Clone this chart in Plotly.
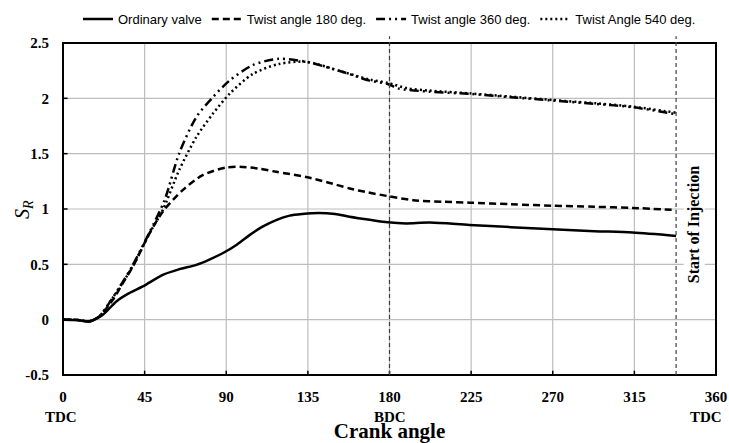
import plotly.graph_objects as go

# Crank angle (deg) and swirl ratio S_R for each case
x_ord = [0, 8, 14.7, 22, 29.4, 36, 44, 55, 64, 73.5, 81, 88, 96, 103, 110, 117.5, 125, 132, 141, 150, 158, 170, 179, 189, 202, 224, 247, 270, 293, 314, 338]
y_ord = [0, -0.003, -0.015, 0.045, 0.165, 0.235, 0.30, 0.405, 0.455, 0.495, 0.545, 0.60, 0.68, 0.766, 0.84, 0.90, 0.94, 0.955, 0.964, 0.955, 0.93, 0.90, 0.88, 0.87, 0.877, 0.856, 0.836, 0.817, 0.80, 0.787, 0.757]

x_180 = [0, 8, 14.7, 20, 27.5, 33, 38.5, 47.7, 55, 66, 77, 90, 99, 108, 117.5, 134, 146, 158, 168, 179, 193, 210, 224, 247, 270, 293, 314, 338]
y_180 = [0, -0.003, -0.015, 0.03, 0.18, 0.33, 0.48, 0.78, 0.976, 1.17, 1.306, 1.375, 1.38, 1.365, 1.336, 1.29, 1.24, 1.186, 1.15, 1.117, 1.08, 1.065, 1.057, 1.043, 1.03, 1.02, 1.01, 0.99]

x_360 = [0, 8, 14.7, 20, 27.5, 38, 47.7, 56, 64, 73.5, 82.6, 91.8, 104.6, 119, 134, 154, 169, 179, 184.6, 202, 224, 247, 270, 293.7, 314, 338]
y_360 = [0, -0.003, -0.015, 0.03, 0.20, 0.48, 0.79, 1.08, 1.50, 1.83, 2.01, 2.16, 2.30, 2.357, 2.33, 2.24, 2.16, 2.13, 2.09, 2.06, 2.04, 2.01, 1.98, 1.95, 1.92, 1.856]

x_540 = [0, 8, 14.7, 20, 27.5, 38, 47.7, 55, 64, 73.5, 82.6, 91.8, 104.6, 119, 134, 154, 169, 179, 190, 202, 224, 247, 270, 293.7, 314, 338]
y_540 = [0, -0.003, -0.015, 0.03, 0.20, 0.47, 0.78, 0.99, 1.35, 1.65, 1.86, 2.04, 2.22, 2.31, 2.33, 2.24, 2.17, 2.14, 2.09, 2.07, 2.045, 2.015, 1.985, 1.955, 1.925, 1.87]

series_names = ["Ordinary valve", "Twist angle 180 deg.", "Twist angle 360 deg.", "Twist Angle 540 deg."]
x_range = [0, 360]
y_range = [-0.5, 2.5]
x_ticks = [0, 45, 90, 135, 180, 225, 270, 315, 360]
y_ticks = [-0.5, 0, 0.5, 1, 1.5, 2, 2.5]
marker_lines = [180, 338]          # BDC and start of injection
stroke_labels = [(0, "TDC", -2), (180, "BDC", 0), (360, "TDC", -10)]
injection_label = "Start of Injection"

serif = "Liberation Serif"
near_solid = "1000px,1px"
grid = "#bdbdbd"
fig = go.Figure()

# grid lines as a (first, hence lowest) line trace at the tick values
gx, gy = [], []
for xv in x_ticks[1:-1]:
    gx += [xv, xv, None]
    gy += [y_range[0], y_range[1], None]
for yv in y_ticks[1:-1]:
    gx += [x_range[0], x_range[1], None]
    gy += [yv, yv, None]
fig.add_trace(go.Scatter(x=gx, y=gy, mode="lines",
                         line=dict(color=grid, width=1.2, dash=near_solid),
                         showlegend=False, hoverinfo="skip"))

styles = [
    dict(dash="solid", width=2.5),
    dict(dash="7px,4px", width=2.5),
    dict(dash="9px,4px,2px,4px,2px,4px", width=2.5),
    dict(dash="2px,3px", width=2.5),
]
data = [(x_ord, y_ord), (x_180, y_180), (x_360, y_360), (x_540, y_540)]
for (xs, ys), name, st in zip(data, series_names, styles):
    fig.add_trace(go.Scatter(
        x=xs, y=ys, name=name, mode="lines",
        line=dict(color="black", width=st["width"], dash=st["dash"], shape="spline", smoothing=0.8),
    ))

# inside tick marks and border as shapes
for xv in x_ticks[1:-1]:
    fig.add_shape(type="line", xref="x", yref="paper", x0=xv, x1=xv, y0=0, y1=0.013,
                  line=dict(color="black", width=1.5, dash=near_solid), layer="above")
for yv in y_ticks[1:-1]:
    fig.add_shape(type="line", xref="paper", yref="y", x0=0, x1=0.007, y0=yv, y1=yv,
                  line=dict(color="black", width=1.5, dash=near_solid), layer="above")
fig.add_shape(type="rect", xref="paper", yref="paper", x0=0, x1=1, y0=0, y1=1,
              line=dict(color="black", width=2, dash="3000px,1px"), layer="above")

for xv in marker_lines:
    fig.add_shape(type="line", xref="x", yref="paper", x0=xv, x1=xv, y0=0, y1=1.02,
                  line=dict(color="#404040", width=1.2, dash="4px,3px"), layer="above")

for xv, txt, dx in stroke_labels:
    fig.add_annotation(x=xv, y=0, xref="x", yref="paper", yshift=-42, xshift=dx, yanchor="middle",
                       text=f"<b>{txt}</b>", showarrow=False, font=dict(family=serif, size=15, color="black"))

fig.add_annotation(x=348, y=0.856, xref="x", yref="y", text=f"<b>{injection_label}</b>",
                   textangle=-90, showarrow=False, bgcolor="white",
                   font=dict(family=serif, size=16, color="black"))

fig.add_annotation(x=-0.0613, y=0.5, xref="paper", yref="paper", text="<i>S</i><sub><i>R</i></sub>",
                   textangle=-90, showarrow=False, xanchor="center", yanchor="middle",
                   font=dict(family=serif, size=20, color="black"))

fig.update_layout(
    width=729, height=443,
    margin=dict(l=63, r=13, t=43, b=68),
    paper_bgcolor="white", plot_bgcolor="rgba(0,0,0,0)",
    showlegend=True,
    legend=dict(orientation="h", x=0.5, xanchor="center", y=0.957, yref="container", yanchor="middle",
                font=dict(family="Liberation Sans Narrow, Liberation Sans", size=13, color="black"),
                itemwidth=30, tracegroupgap=0, bgcolor="rgba(0,0,0,0)"),
    xaxis=dict(range=x_range, tickvals=x_ticks, ticktext=[f"<b>{v}</b>" for v in x_ticks],
               showgrid=False, showline=False, zeroline=False, automargin=False,
               ticks="outside", ticklen=8, tickcolor="rgba(0,0,0,0)",
               tickfont=dict(family=serif, size=15, color="black"),
               title=dict(text="<b>Crank angle</b>", font=dict(family=serif, size=21, color="black"), standoff=22)),
    yaxis=dict(range=y_range, tickvals=y_ticks, ticktext=[f"<b>{v:g}</b>" for v in y_ticks],
               showgrid=False, showline=False, zeroline=False, automargin=False,
               ticks="outside", ticklen=10, tickcolor="rgba(0,0,0,0)",
               tickfont=dict(family=serif, size=15, color="black")),
)

fig.write_html("out.html", config={"displayModeBar": False},
               post_script="document.body.style.margin='0';")
